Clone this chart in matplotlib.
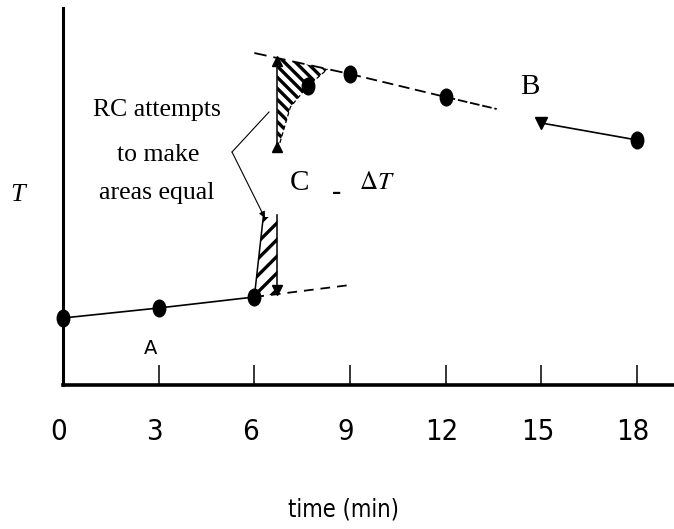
import numpy as np
import matplotlib
matplotlib.use("Agg")
import matplotlib.pyplot as plt
from matplotlib import font_manager
from matplotlib.font_manager import FontProperties
from matplotlib.path import Path
from matplotlib.transforms import Affine2D, ScaledTranslation

# temperature (arbitrary units) against time in minutes
t_fore = [0, 3, 6]
T_fore = [6.7, 7.7, 8.8]
t_fore_ext = [6, 9]
T_fore_ext = [8.8, 10.0]

t_rise = [6, 6.28, 6.8, 7.13, 7.68, 8.3]
T_rise = [8.8, 16.8, 24.2, 27.8, 29.9, 31.6]

t_after = [7.68, 9, 12]
T_after = [29.9, 31.1, 28.8]
t_after_tail = [12, 13.6]
T_after_tail = [28.8, 27.6]
t_late = [15, 18]
T_late = [26.2, 24.5]
t_after_ext = [6, 9]
T_after_ext = [33.2, 31.1]

# vertical jump (delta T) drawn at the equal-area time
t_delta = 6.72
T_delta_upper = [32.4, 23.8]
T_delta_lower = [17.0, 9.5]

xticks = [0, 3, 6, 9, 12, 15, 18]

plt.rcParams['lines.scale_dashes'] = False
plt.rcParams['hatch.linewidth'] = 2.4
plt.rcParams['mathtext.fontset'] = 'stix'


def narrow_font(size):
    # any condensed sans face will do for the axis numbers
    for f in font_manager.fontManager.ttflist:
        tag = (f.name + ' ' + str(f.stretch)).lower()
        if ('narrow' in tag or 'condensed' in tag) and 'serif' not in f.name.lower() \
                and f.style == 'normal' and f.weight in (400, 'normal', 'regular'):
            return FontProperties(fname=f.fname, size=size)
    return FontProperties(family='Liberation Sans', size=size * 0.9)


serif = 'Liberation Serif'

fig = plt.figure(figsize=(6.74, 5.29), dpi=100)
ax = fig.add_axes([63 / 674, 144 / 529, 611 / 674, 377 / 529])
ax.set_xlim(0, 19.16)
ax.set_ylim(0, 37.7)

for side in ('top', 'right'):
    ax.spines[side].set_visible(False)
ax.spines['left'].set_linewidth(2.2)
ax.spines['bottom'].set_linewidth(2.6)
ax.set_yticks([])
ax.set_xticks(xticks)
ax.set_xticklabels([str(v) for v in xticks], fontproperties=narrow_font(21))
ax.tick_params(axis='x', direction='in', length=14.4, width=1.1, pad=24)
shift = ScaledTranslation(-4 / 100, 0, fig.dpi_scale_trans)
for lab in ax.get_xticklabels():
    lab.set_transform(lab.get_transform() + shift)

# hatched areas either side of the jump
lower_poly = [(t_rise[0], T_rise[0]), (t_rise[1], T_rise[1]),
              (t_delta, T_rise[1]),
              (t_delta, np.interp(t_delta, t_fore_ext, T_fore_ext))]
ax.fill([p[0] for p in lower_poly], [p[1] for p in lower_poly],
        facecolor='none', edgecolor='black', linewidth=0, hatch='//')

upper_poly = [(t_delta, np.interp(t_delta, t_after_ext, T_after_ext))]
upper_poly += list(zip(t_rise[:1:-1], T_rise[:1:-1]))
upper_poly += [(t_delta, T_delta_upper[1])]
ax.fill([p[0] for p in upper_poly], [p[1] for p in upper_poly],
        facecolor='none', edgecolor='black', linewidth=0, hatch='\\\\\\')

# curves and extrapolations
ax.plot(t_fore, T_fore, color='black', lw=1.2)
ax.plot(t_fore_ext, T_fore_ext, color='black', lw=1.3, dashes=(7, 5))
ax.plot(t_rise[:2], T_rise[:2], color='black', lw=1.1)
ax.plot(t_rise[2:], T_rise[2:], color='black', lw=0.9, dashes=(3, 2))
ax.plot(t_after_ext, T_after_ext, color='black', lw=1.3, dashes=(9, 5))
ax.plot(t_after[1:], T_after[1:], color='black', lw=1.3, dashes=(8, 4))
ax.plot(t_after_tail, T_after_tail, color='black', lw=1.3, dashes=(7, 2))
ax.plot(t_late, T_late, color='black', lw=1.2)

ax.plot([t_delta, t_delta], T_delta_upper, color='black', lw=1.1)
ax.plot([t_delta] * 2, T_delta_upper, ls='none', marker='^', ms=7, color='black')
ax.plot([t_delta, t_delta], T_delta_lower, color='black', lw=1.1)
ax.plot([t_delta], [T_delta_lower[1]], ls='none', marker='v', ms=7, color='black')

# measured points
dot = Path.unit_circle().transformed(Affine2D().scale(0.75, 1.0))
ax.plot(t_fore, T_fore, ls='none', marker=dot, ms=12, color='black', clip_on=False)
ax.plot(t_after, T_after, ls='none', marker=dot, ms=12, color='black')
ax.plot([t_late[0]], [T_late[0]], ls='none', marker='v', ms=9, color='black')
ax.plot([t_late[1]], [T_late[1]], ls='none', marker=dot, ms=12, color='black')

# pointer from the note to both areas
ax.plot([6.46, 5.3], [27.3, 23.3], color='black', lw=0.8)
ax.annotate('', xy=(6.33, 16.7), xytext=(5.3, 23.3),
            arrowprops=dict(arrowstyle='-|>', color='black', lw=0.8,
                            mutation_scale=9, shrinkA=0, shrinkB=0))

ax.text(2.95, 27.5, 'RC attempts', ha='center', va='center', fontfamily=serif, fontsize=18.5)
ax.text(2.98, 23.0, 'to make', ha='center', va='center', fontfamily=serif, fontsize=18.5)
ax.text(2.95, 19.2, 'areas equal', ha='center', va='center', fontfamily=serif, fontsize=18.5)

ax.text(7.43, 20.2, 'C', ha='center', va='center', fontfamily=serif, fontsize=21)
ax.text(8.59, 19.2, '-', ha='center', va='center', fontfamily=serif, fontsize=20, fontweight='bold')
ax.text(9.85, 20.3, r'$\Delta T$', ha='center', va='center', fontsize=18)
ax.text(2.73, 3.7, 'A', ha='center', va='center', fontfamily='DejaVu Sans', fontsize=14)
ax.text(14.64, 29.8, 'B', ha='center', va='center', fontfamily=serif, fontsize=21)
ax.text(-1.41, 19.0, 'T', ha='center', va='center', fontfamily=serif, fontstyle='italic', fontsize=19)

fig.text(343 / 674, 1 - 510 / 529, 'time (min)', ha='center', va='center',
         fontproperties=narrow_font(17))

fig.savefig('out.png', dpi=100)
